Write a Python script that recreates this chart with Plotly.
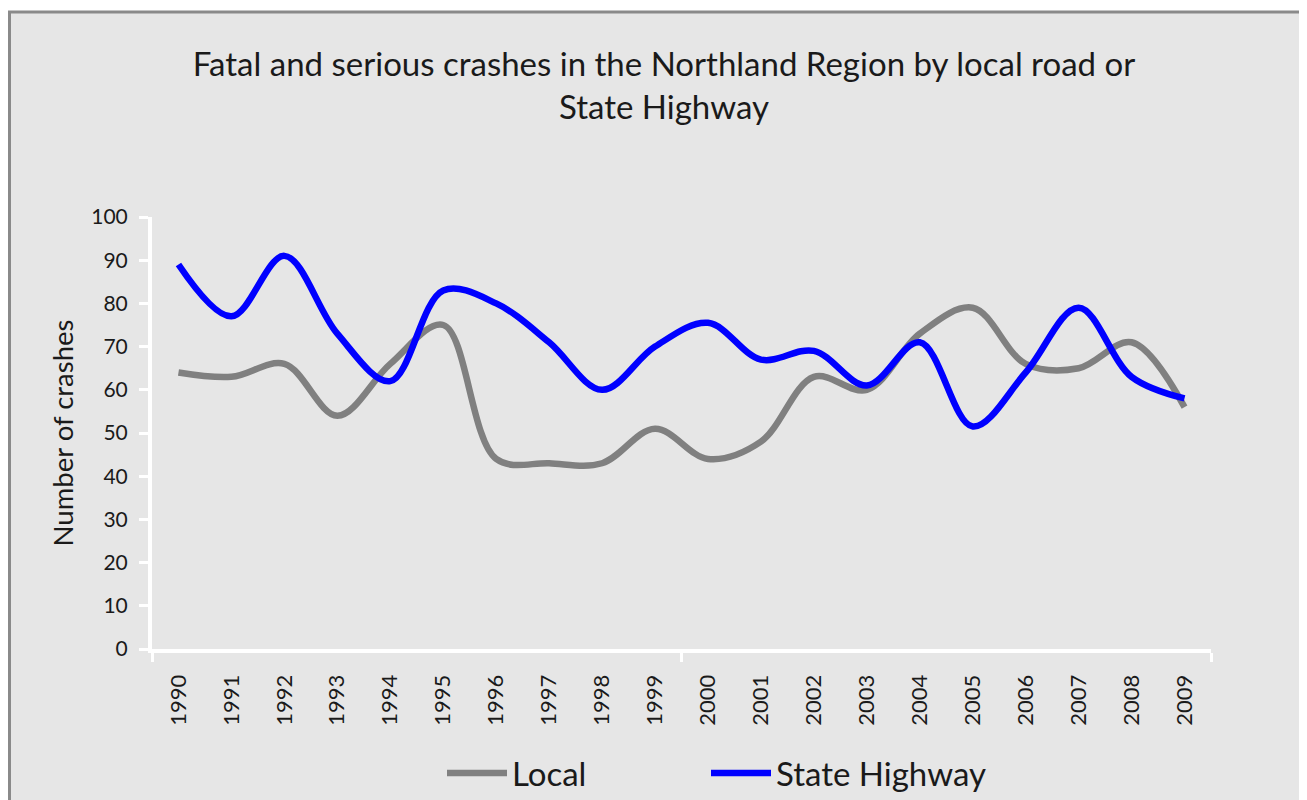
import plotly.graph_objects as go

years = list(range(1990, 2010))
year_labels = [str(y) for y in years]
local = [64, 63, 66, 54, 66, 75, 44, 43, 43, 51, 44, 48, 63, 60, 73, 79, 66, 65, 71, 56]
state_highway = [89, 77, 91, 73, 62, 83, 80, 71, 60, 70, 75.5, 67, 69, 61, 71, 51.5, 64, 79, 63, 58]
y_ticks = list(range(0, 101, 10))
boundary_ticks = [1989.5, 1999.5, 2009.5]

FONT = "Lato"
OFF = 8  # default page margin of the html body
W, H = 1307 - OFF, 800 - OFF
L = 152 - OFF
T = 217 - OFF
R = W - (1211 - OFF)
B = H - (649 - OFF)
pw, ph = W - L - R, H - T - B

fig = go.Figure()
fig.add_trace(go.Scatter(x=years, y=local, name="Local", mode="lines", legend="legend",
                         line=dict(color="#808080", width=6.5, shape="spline", smoothing=1.0)))
fig.add_trace(go.Scatter(x=years, y=state_highway, name="State Highway", mode="lines", legend="legend2",
                         line=dict(color="#0000ff", width=6.5, shape="spline", smoothing=1.0)))

def px_x(p):  # page pixel -> paper fraction
    return (p - OFF - L) / pw

def px_y(p):
    return (H - B - (p - OFF)) / ph

fig.add_shape(type="rect", xref="paper", yref="paper",
              x0=px_x(9.5), x1=px_x(1340), y0=px_y(840), y1=px_y(12),
              fillcolor="#e6e6e6", line=dict(color="#8a8a8a", width=3), layer="below")

legend_style = dict(orientation="h", xanchor="left", y=px_y(773), yanchor="middle",
                    font=dict(size=33, family=FONT, color="#1a1a1a"),
                    bgcolor="rgba(0,0,0,0)", itemwidth=60)

fig.update_layout(
    width=W, height=H,
    margin=dict(l=L, r=R, t=T, b=B, autoexpand=False),
    paper_bgcolor="white",
    plot_bgcolor="rgba(0,0,0,0)",
    font=dict(family=FONT, color="#1a1a1a"),
    title=dict(text="Fatal and serious crashes in the Northland Region by local road or<br>State Highway",
               x=(664 - OFF) / W, xanchor="center", y=1 - 68 / H, yanchor="top",
               font=dict(size=33, family=FONT, color="#1a1a1a")),
    showlegend=True,
    legend=dict(x=px_x(442), **legend_style),
    legend2=dict(x=px_x(706), **legend_style),
    xaxis=dict(range=[1989.5, 2009.5], tickvals=years, ticktext=year_labels,
               tickangle=-90, ticks="", showgrid=False, zeroline=False,
               showline=True, linecolor="white", linewidth=4,
               tickfont=dict(size=22, family=FONT, color="#1a1a1a"),
               ticklabelstandoff=13,
               minor=dict(tickvals=boundary_ticks, ticks="outside", ticklen=9,
                          tickwidth=3, tickcolor="white", showgrid=False)),
    yaxis=dict(range=[0, 100], tickvals=y_ticks, ticks="outside", ticklen=9,
               tickwidth=3, tickcolor="white", showgrid=False, zeroline=False,
               showline=True, linecolor="white", linewidth=4,
               tickfont=dict(size=21, family=FONT, color="#1a1a1a"),
               ticklabelstandoff=7,
               title=dict(text="Number of crashes", font=dict(size=27.5, family=FONT, color="#1a1a1a"),
                          standoff=11)),
)

fig.write_html("out.html")
